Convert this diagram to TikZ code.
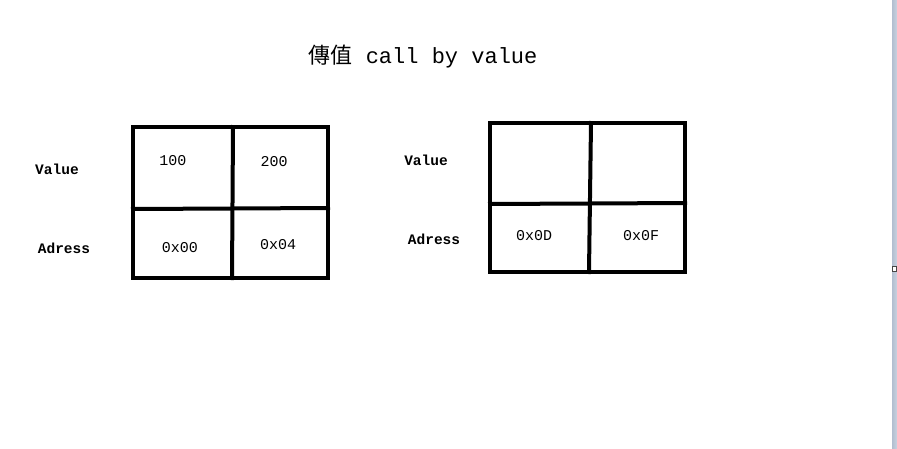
\documentclass[tikz,border=0pt]{standalone}
\usepackage{fontspec}
\setmainfont{Liberation Mono}
\newfontfamily\cjk{Noto Sans CJK TC}
\begin{document}
\begin{tikzpicture}[x=1pt,y=-1pt,
  gridline/.style={line width=4pt, line cap=rect, black},
  lbl/.style={font=\fontsize{14.5}{14.5}\selectfont\bfseries, inner sep=0pt},
  val/.style={font=\fontsize{15}{15}\selectfont, inner sep=0pt}]
\useasboundingbox (0,0) rectangle (897,448);
\fill[white] (0,0) rectangle (897,448);
% canvas edge strip
\fill[left color={rgb,255:red,178;green,190;blue,208}, right color={rgb,255:red,200;green,210;blue,224}] (892,0) rectangle (897,448);
\draw[draw={rgb,255:red,70;green,70;blue,70}, fill=white, line width=0.8pt] (892.5,266.5) rectangle (896.5,271.5);
% title
\node (title) at (423,57) {\fontsize{22}{22}\selectfont{\cjk 傳值} call by value};
% left grid
\draw[gridline] (133,127) rectangle (328,278);
\draw[gridline] (233,127) -- (232,278);
\draw[gridline] (133,209) -- (328,208);
% right grid
\draw[gridline] (490,123) rectangle (685,272);
\draw[gridline] (591,123) -- (589,272);
\draw[gridline] (490,204) -- (685,203);
% labels
\node[lbl] (v1) at (57,169) {Value};
\node[lbl] (a1) at (64,248) {Adress};
\node[lbl] (v2) at (426,160) {Value};
\node[lbl] (a2) at (434,239) {Adress};
% values
\node[val] (c100) at (173,161) {100};
\node[val] (c200) at (274,162) {200};
\node[val] (c0x00) at (180,248) {0x00};
\node[val] (c0x04) at (278,245) {0x04};
\node[val] (c0x0D) at (534,236) {0x0D};
\node[val] (c0x0F) at (641,236) {0x0F};
\end{tikzpicture}
\end{document}
